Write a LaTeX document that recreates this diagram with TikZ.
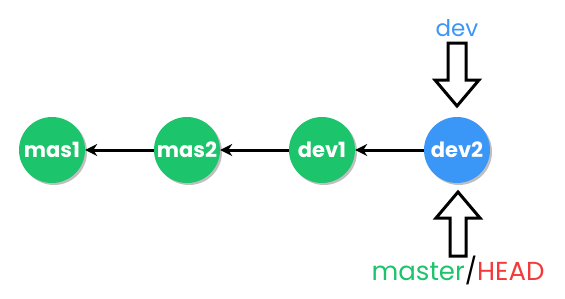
\documentclass[tikz,border=0pt]{standalone}
\usepackage{fontspec}
\setmainfont{Poppins}
\usetikzlibrary{shadows,arrows.meta}
\definecolor{cgreen}{HTML}{1CC46B}
\definecolor{cblue}{HTML}{3A96F7}
\definecolor{cred}{HTML}{F23A3A}
\begin{document}
\begin{tikzpicture}[x=1pt,y=-1pt,
  commit/.style={circle,minimum size=66pt,inner sep=0pt,text=white,font=\fontsize{21}{23}\selectfont\bfseries,
    drop shadow={shadow xshift=2pt,shadow yshift=-2pt,fill=black!25,opacity=1}},
  link/.style={-{Stealth[length=12pt,width=12pt]},line width=3pt,draw=black},
  blockarrow/.style={draw=black,line width=3pt,fill=white,line join=miter},
  lbl/.style={font=\fontsize{23}{25}\selectfont,inner sep=0pt}]
\useasboundingbox (0,0) rectangle (565,298);
\node[commit,fill=cgreen] (mas1) at (52,150) {mas1};
\node[commit,fill=cgreen] (mas2) at (187,150) {mas2};
\node[commit,fill=cgreen] (dev1) at (322,150) {dev1};
\node[commit,fill=cblue] (dev2) at (457,150) {dev2};
\draw[link] (mas2) -- (mas1);
\draw[link] (dev1) -- (mas2);
\draw[link] (dev2) -- (dev1);
\node[lbl,text=cblue] (dev) at (457,28) {dev};
\node[lbl,font=\fontsize{26}{28}\selectfont] (mh) at (458,270) {\textcolor{cgreen}{master}/\textcolor{cred}{HEAD}};
% top block arrow
\draw[blockarrow] (448,43) -- (466,43) -- (466,80) -- (479,80) -- (457,106) -- (435,80) -- (448,80) -- cycle;
% bottom block arrow
\draw[blockarrow] (450,256) -- (466,256) -- (466,218) -- (480,218) -- (458,192) -- (436,218) -- (450,218) -- cycle;
\end{tikzpicture}
\end{document}
